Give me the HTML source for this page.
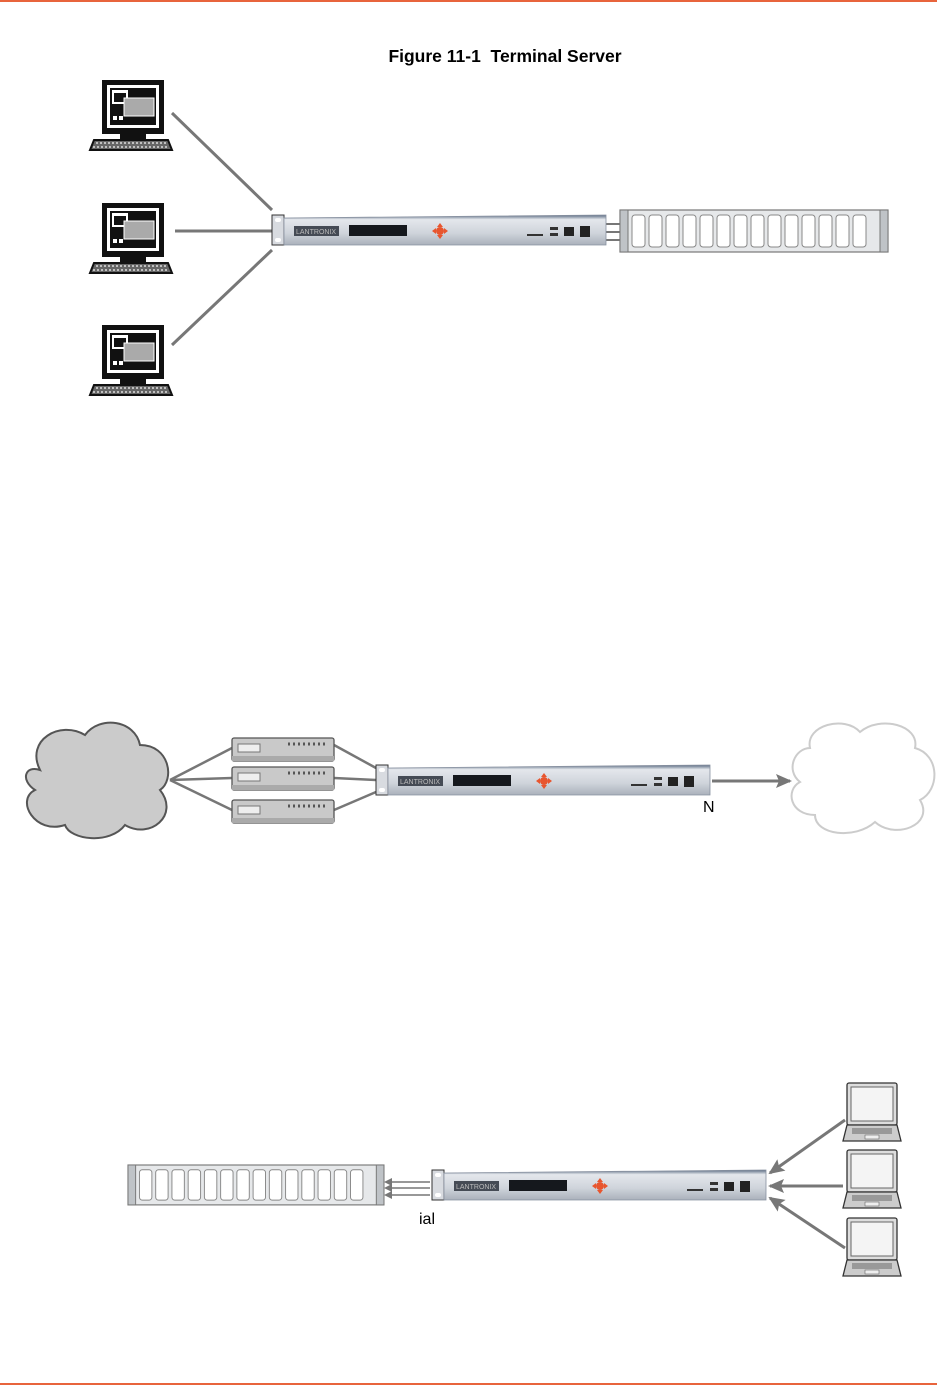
<!DOCTYPE html>
<html><head><meta charset="utf-8"><style>
html,body{margin:0;padding:0;background:#fff;}
body{width:937px;height:1386px;overflow:hidden;position:relative;font-family:"Liberation Sans",sans-serif;}
</style></head><body>
<svg width="937" height="1386" viewBox="0 0 937 1386" xmlns="http://www.w3.org/2000/svg" style="position:absolute;left:0;top:0">
<defs>
<linearGradient id="dg" x1="0" y1="0" x2="0" y2="1"><stop offset="0" stop-color="#5a6b82"/><stop offset="0.15" stop-color="#e4e7ec"/><stop offset="0.6" stop-color="#cfd4db"/><stop offset="1" stop-color="#aab1bb"/></linearGradient>
<g id="dev">
  <rect x="0" y="0" width="12" height="30" fill="#d8dbe0" stroke="#333" stroke-width="1"/>
  <rect x="3" y="3" width="6" height="4" fill="#fff" rx="2"/>
  <rect x="3" y="23" width="6" height="4" fill="#fff" rx="2"/>
  <path d="M12 3 L334 0 L334 30 L12 30 Z" fill="url(#dg)" stroke="#8891a0" stroke-width="0.8"/>
  <rect x="22" y="11" width="45" height="10" fill="#454b55"/>
  <text x="24" y="19" font-size="7" fill="#bbb">LANTRONIX</text>
  <rect x="77" y="10" width="58" height="11" fill="#15181d"/>
  <circle cx="168" cy="16" r="4" fill="#e8552e"/>
  <path d="M160 16 l4 -3 v6z M176 16 l-4 -3 v6z M168 8 l-3 4 h6z M168 24 l-3 -4 h6z" fill="#e8552e"/>
  <rect x="255" y="19" width="16" height="2" fill="#333"/>
  <rect x="278" y="12" width="8" height="3" fill="#333"/><rect x="278" y="18" width="8" height="3" fill="#333"/>
  <rect x="292" y="12" width="10" height="9" fill="#222"/><rect x="308" y="11" width="10" height="11" fill="#222"/>
</g>
<g id="panel">
  <rect x="0" y="0" width="268" height="42" fill="#e6e8ea" stroke="#777" stroke-width="1.2"/>
  <rect x="0" y="0" width="8" height="42" fill="#bfc3c7" stroke="#777"/>
  <rect x="260" y="0" width="8" height="42" fill="#bfc3c7" stroke="#777"/>
  <g fill="#fff" stroke="#888" stroke-width="1">
  <rect x="12" y="5" width="13" height="32" rx="3"/><rect x="29" y="5" width="13" height="32" rx="3"/><rect x="46" y="5" width="13" height="32" rx="3"/><rect x="63" y="5" width="13" height="32" rx="3"/><rect x="80" y="5" width="13" height="32" rx="3"/><rect x="97" y="5" width="13" height="32" rx="3"/><rect x="114" y="5" width="13" height="32" rx="3"/><rect x="131" y="5" width="13" height="32" rx="3"/><rect x="148" y="5" width="13" height="32" rx="3"/><rect x="165" y="5" width="13" height="32" rx="3"/><rect x="182" y="5" width="13" height="32" rx="3"/><rect x="199" y="5" width="13" height="32" rx="3"/><rect x="216" y="5" width="13" height="32" rx="3"/><rect x="233" y="5" width="13" height="32" rx="3"/>
  </g>
</g>
<g id="pc">
  <rect x="12" y="0" width="62" height="54" fill="#111"/>
  <rect x="17" y="5" width="52" height="43" fill="#fff"/>
  <rect x="20" y="8" width="46" height="37" fill="#111"/>
  <rect x="22" y="10" width="16" height="14" fill="#fff"/><rect x="24" y="13" width="12" height="9" fill="#111"/>
  <rect x="34" y="18" width="30" height="18" fill="#aaa" stroke="#fff"/>
  <rect x="23" y="36" width="4" height="4" fill="#fff"/><rect x="29" y="36" width="4" height="4" fill="#fff"/>
  <rect x="30" y="54" width="26" height="5" fill="#111"/>
  <path d="M4 60 L78 60 L82 70 L0 70 Z" fill="#666" stroke="#111" stroke-width="2"/>
  <path d="M6 63 H76 M3 67 H79" stroke="#ddd" stroke-width="1.5" stroke-dasharray="2 2"/>
</g>
<g id="lap">
  <rect x="4" y="0" width="50" height="42" rx="2" fill="#ddd" stroke="#333" stroke-width="1.3"/>
  <rect x="8" y="4" width="42" height="34" fill="#f4f4f4" stroke="#666"/>
  <path d="M4 42 L54 42 L58 58 L0 58 Z" fill="#ccc" stroke="#333" stroke-width="1.3"/>
  <rect x="9" y="45" width="40" height="6" fill="#999"/>
  <rect x="22" y="52" width="14" height="4" fill="#eee" stroke="#666" stroke-width="0.6"/>
</g>
<g id="sw">
  <rect x="0" y="0" width="102" height="23" rx="2" fill="#c9c9c9" stroke="#555" stroke-width="1.3"/>
  <rect x="6" y="6" width="22" height="8" fill="#eee" stroke="#777"/>
  <path d="M56 6 h38" stroke="#555" stroke-width="3" stroke-dasharray="2 3"/>
  <rect x="0" y="18" width="102" height="5" fill="#aaa"/>
</g>
<marker id="ah" markerWidth="8" markerHeight="8" refX="6" refY="4" orient="auto" markerUnits="userSpaceOnUse"><path d="M0 0 L8 4 L0 8 Z" fill="#777"/></marker>
<marker id="ah2" markerWidth="16" markerHeight="14" refX="14" refY="7" orient="auto" markerUnits="userSpaceOnUse"><path d="M0 0 L16 7 L0 14 L3 7 Z" fill="#777"/></marker>
</defs>

<rect x="0" y="0" width="937" height="2" fill="#e8643c"/>
<rect x="0" y="1383" width="937" height="2" fill="#e8643c"/>
<text x="505" y="62" font-size="17.5" font-weight="bold" text-anchor="middle" fill="#000">Figure 11-1&#160; Terminal Server</text>

<!-- Figure 1 -->
<g stroke="#777" stroke-width="3">
<line x1="172" y1="113" x2="272" y2="210"/>
<line x1="175" y1="231" x2="272" y2="231"/>
<line x1="172" y1="345" x2="272" y2="250"/>
<line x1="606" y1="224" x2="624" y2="224" stroke-width="2"/>
<line x1="606" y1="232" x2="624" y2="232" stroke-width="2"/>
<line x1="606" y1="240" x2="624" y2="240" stroke-width="2"/>
</g>
<use href="#pc" x="90" y="80"/>
<use href="#pc" x="90" y="203"/>
<use href="#pc" x="90" y="325"/>
<use href="#dev" x="272" y="215"/>
<use href="#panel" x="620" y="210"/>

<!-- Figure 2 -->
<path d="M40 770 C25 740 60 720 85 735 C100 715 135 720 140 745 C170 745 175 780 160 790 C180 815 150 840 125 825 C110 845 70 840 65 825 C35 835 15 800 35 790 C20 780 25 765 40 770 Z" fill="#cbcbcb" stroke="#555" stroke-width="2"/>
<path d="M810 748 C805 725 845 715 860 732 C880 715 920 725 915 748 C940 755 940 790 920 800 C935 825 895 840 875 822 C855 840 815 835 815 815 C790 815 785 790 800 782 C785 770 795 748 810 748 Z" fill="#fff" stroke="#ccc" stroke-width="2"/>
<g stroke="#777" stroke-width="2.5">
<line x1="170" y1="780" x2="232" y2="748"/>
<line x1="170" y1="780" x2="232" y2="778"/>
<line x1="170" y1="780" x2="232" y2="810"/>
<line x1="334" y1="745" x2="376" y2="768"/>
<line x1="334" y1="778" x2="376" y2="780"/>
<line x1="334" y1="810" x2="376" y2="792"/>
<line x1="712" y1="781" x2="790" y2="781" stroke-width="3" marker-end="url(#ah2)"/>
</g>
<use href="#sw" x="232" y="738"/>
<use href="#sw" x="232" y="767"/>
<use href="#sw" x="232" y="800"/>
<use href="#dev" x="376" y="765"/>
<text x="703" y="812" font-size="16" fill="#000">N</text>

<!-- Figure 3 -->
<g transform="translate(128 1165) scale(0.955 0.95)"><use href="#panel"/></g>
<g stroke="#777" stroke-width="1.5">
<line x1="430" y1="1182" x2="386" y2="1182" marker-end="url(#ah)"/>
<line x1="430" y1="1188" x2="386" y2="1188" marker-end="url(#ah)"/>
<line x1="430" y1="1195" x2="386" y2="1195" marker-end="url(#ah)"/>
</g>
<use href="#dev" x="432" y="1170"/>
<text x="419" y="1224" font-size="16" fill="#000">ial</text>
<g stroke="#777" stroke-width="3">
<line x1="845" y1="1120" x2="770" y2="1173" marker-end="url(#ah2)"/>
<line x1="843" y1="1186" x2="770" y2="1186" marker-end="url(#ah2)"/>
<line x1="845" y1="1248" x2="770" y2="1198" marker-end="url(#ah2)"/>
</g>
<use href="#lap" x="843" y="1083"/>
<use href="#lap" x="843" y="1150"/>
<use href="#lap" x="843" y="1218"/>
</svg>
</body></html>
